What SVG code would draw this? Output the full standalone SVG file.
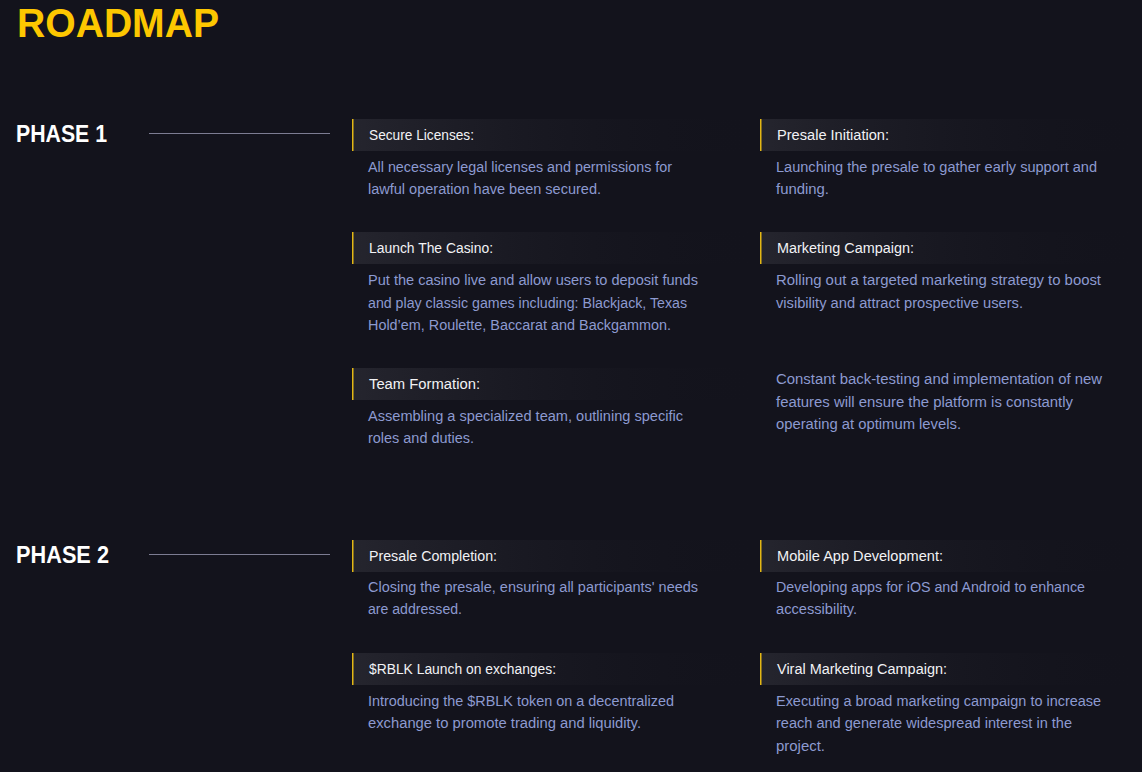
<svg xmlns="http://www.w3.org/2000/svg" width="1142" height="772" viewBox="0 0 1142 772">
<defs>
<linearGradient id="barL" x1="0" y1="0" x2="1" y2="0">
<stop offset="0" stop-color="#25252e"/>
<stop offset="1" stop-color="#13131c" stop-opacity="0"/>
</linearGradient>
<style>
.title{font-family:"Liberation Sans",Arial,sans-serif;font-weight:bold;font-size:40px;fill:#fdc700}
.phase{font-family:"Liberation Sans",Arial,sans-serif;font-weight:bold;font-size:23px;fill:#ffffff}
.hd{font-family:"Liberation Sans",Arial,sans-serif;font-size:14px;fill:#f2f2f5}
.bd{font-family:"Liberation Sans",Arial,sans-serif;font-size:14px;fill:#8d9ad0}
.bar{fill:url(#barL)}
.acc{fill:#e3b714}
.rule{stroke:#7c7c92;stroke-width:1}
</style>
</defs>
<rect width="1142" height="772" fill="#13131c"/>
<text class="title" x="17" y="37" textLength="202" lengthAdjust="spacingAndGlyphs">ROADMAP</text>

<g id="phase1">
<text class="phase" x="16" y="142" textLength="91" lengthAdjust="spacingAndGlyphs">PHASE 1</text>
</g>
<g id="phase2">
<text class="phase" x="16" y="563" textLength="93" lengthAdjust="spacingAndGlyphs">PHASE 2</text>
</g>

<g id="connectors">
<line class="rule" x1="149" y1="133.5" x2="330" y2="133.5"/>
<line class="rule" x1="149" y1="554.5" x2="330" y2="554.5"/>
</g>

<g id="secure-licenses">
<rect class="bar" x="352" y="119" width="410" height="32"/>
<rect class="acc" x="352" y="119" width="1.5" height="32"/>
<text class="hd" x="369" y="140" textLength="105" lengthAdjust="spacingAndGlyphs">Secure Licenses:</text>
<text class="bd" x="368" y="172" textLength="304" lengthAdjust="spacingAndGlyphs">All necessary legal licenses and permissions for</text>
<text class="bd" x="368" y="194" textLength="233" lengthAdjust="spacingAndGlyphs">lawful operation have been secured.</text>
</g>

<g id="presale-initiation">
<rect class="bar" x="760" y="119" width="382" height="32"/>
<rect class="acc" x="760" y="119" width="1.5" height="32"/>
<text class="hd" x="777" y="140" textLength="112" lengthAdjust="spacingAndGlyphs">Presale Initiation:</text>
<text class="bd" x="776" y="172" textLength="321" lengthAdjust="spacingAndGlyphs">Launching the presale to gather early support and</text>
<text class="bd" x="776" y="194" textLength="53" lengthAdjust="spacingAndGlyphs">funding.</text>
</g>

<g id="launch-casino">
<rect class="bar" x="352" y="232" width="410" height="32"/>
<rect class="acc" x="352" y="232" width="1.5" height="32"/>
<text class="hd" x="369" y="253" textLength="124" lengthAdjust="spacingAndGlyphs">Launch The Casino:</text>
<text class="bd" x="368" y="285" textLength="330" lengthAdjust="spacingAndGlyphs">Put the casino live and allow users to deposit funds</text>
<text class="bd" x="368" y="308" textLength="319" lengthAdjust="spacingAndGlyphs">and play classic games including: Blackjack, Texas</text>
<text class="bd" x="368" y="330" textLength="303" lengthAdjust="spacingAndGlyphs">Hold’em, Roulette, Baccarat and Backgammon.</text>
</g>

<g id="marketing-campaign">
<rect class="bar" x="760" y="232" width="382" height="32"/>
<rect class="acc" x="760" y="232" width="1.5" height="32"/>
<text class="hd" x="777" y="253" textLength="137" lengthAdjust="spacingAndGlyphs">Marketing Campaign:</text>
<text class="bd" x="776" y="285" textLength="325" lengthAdjust="spacingAndGlyphs">Rolling out a targeted marketing strategy to boost</text>
<text class="bd" x="776" y="308" textLength="247" lengthAdjust="spacingAndGlyphs">visibility and attract prospective users.</text>
</g>

<g id="team-formation">
<rect class="bar" x="352" y="368" width="410" height="32"/>
<rect class="acc" x="352" y="368" width="1.5" height="32"/>
<text class="hd" x="369" y="389" textLength="111" lengthAdjust="spacingAndGlyphs">Team Formation:</text>
<text class="bd" x="368" y="421" textLength="315" lengthAdjust="spacingAndGlyphs">Assembling a specialized team, outlining specific</text>
<text class="bd" x="368" y="443" textLength="106" lengthAdjust="spacingAndGlyphs">roles and duties.</text>
</g>

<g id="back-testing">
<text class="bd" x="776" y="384" textLength="326" lengthAdjust="spacingAndGlyphs">Constant back-testing and implementation of new</text>
<text class="bd" x="776" y="407" textLength="297" lengthAdjust="spacingAndGlyphs">features will ensure the platform is constantly</text>
<text class="bd" x="776" y="429" textLength="185" lengthAdjust="spacingAndGlyphs">operating at optimum levels.</text>
</g>

<g id="presale-completion">
<rect class="bar" x="352" y="540" width="410" height="32"/>
<rect class="acc" x="352" y="540" width="1.5" height="32"/>
<text class="hd" x="369" y="561" textLength="128" lengthAdjust="spacingAndGlyphs">Presale Completion:</text>
<text class="bd" x="368" y="592" textLength="330" lengthAdjust="spacingAndGlyphs">Closing the presale, ensuring all participants' needs</text>
<text class="bd" x="368" y="614" textLength="94" lengthAdjust="spacingAndGlyphs">are addressed.</text>
</g>

<g id="mobile-app">
<rect class="bar" x="760" y="540" width="382" height="32"/>
<rect class="acc" x="760" y="540" width="1.5" height="32"/>
<text class="hd" x="777" y="561" textLength="166" lengthAdjust="spacingAndGlyphs">Mobile App Development:</text>
<text class="bd" x="776" y="592" textLength="309" lengthAdjust="spacingAndGlyphs">Developing apps for iOS and Android to enhance</text>
<text class="bd" x="776" y="614" textLength="81" lengthAdjust="spacingAndGlyphs">accessibility.</text>
</g>

<g id="rblk-launch">
<rect class="bar" x="352" y="653" width="410" height="32"/>
<rect class="acc" x="352" y="653" width="1.5" height="32"/>
<text class="hd" x="369" y="674" textLength="187" lengthAdjust="spacingAndGlyphs">$RBLK Launch on exchanges:</text>
<text class="bd" x="368" y="706" textLength="306" lengthAdjust="spacingAndGlyphs">Introducing the $RBLK token on a decentralized</text>
<text class="bd" x="368" y="728" textLength="273" lengthAdjust="spacingAndGlyphs">exchange to promote trading and liquidity.</text>
</g>

<g id="viral-marketing">
<rect class="bar" x="760" y="653" width="382" height="32"/>
<rect class="acc" x="760" y="653" width="1.5" height="32"/>
<text class="hd" x="777" y="674" textLength="170" lengthAdjust="spacingAndGlyphs">Viral Marketing Campaign:</text>
<text class="bd" x="776" y="706" textLength="325" lengthAdjust="spacingAndGlyphs">Executing a broad marketing campaign to increase</text>
<text class="bd" x="776" y="728" textLength="296" lengthAdjust="spacingAndGlyphs">reach and generate widespread interest in the</text>
<text class="bd" x="776" y="751" textLength="49" lengthAdjust="spacingAndGlyphs">project.</text>
</g>
</svg>
